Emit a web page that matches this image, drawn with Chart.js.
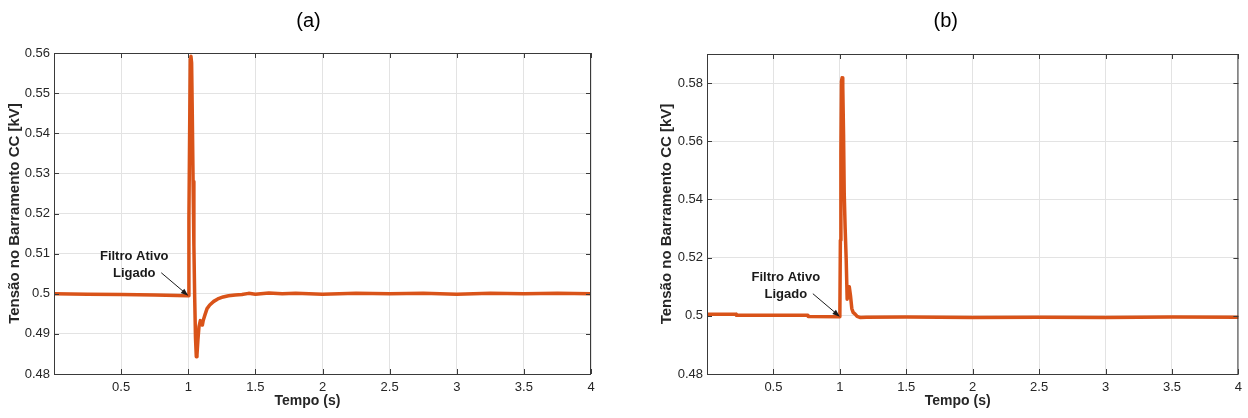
<!DOCTYPE html>
<html>
<head>
<meta charset="utf-8">
<script src="https://cdn.jsdelivr.net/npm/chart.js@4"></script>
<style>
  body { margin: 0; background: #fff; }
  #wrap { display: flex; width: 1248px; height: 418px; }
  canvas { display: block; }
</style>
</head>
<body>
<div id="wrap">
  <canvas id="chartA" width="624" height="418"></canvas>
  <canvas id="chartB" width="624" height="418"></canvas>
</div>
<script>
// tick labels
const xTicks = [0, 0.5, 1, 1.5, 2, 2.5, 3, 3.5, 4];
const yTicksA = [0.48, 0.49, 0.50, 0.51, 0.52, 0.53, 0.54, 0.55, 0.56];
const yTicksB = [0.48, 0.50, 0.52, 0.54, 0.56, 0.58];

// (a) tensao no barramento CC
const timeA = [0, 0.25, 0.5, 0.75, 1.0, 1.005, 1.01, 1.015, 1.02, 1.025, 1.03, 1.036, 1.042, 1.048, 1.054,
  1.06, 1.065, 1.072, 1.08, 1.09, 1.098, 1.105, 1.112, 1.125, 1.14, 1.16, 1.19, 1.22, 1.26, 1.3, 1.35, 1.4,
  1.45, 1.5, 1.6, 1.7, 1.8, 2.0, 2.25, 2.5, 2.75, 3.0, 3.25, 3.5, 3.75, 4.0];
const voltA = [0.5, 0.4999, 0.4998, 0.4997, 0.4995, 0.519, 0.539, 0.5585, 0.5592, 0.5575, 0.545, 0.528, 0.512, 0.499, 0.489,
  0.4843, 0.4848, 0.4885, 0.4918, 0.4933, 0.4928, 0.4922, 0.4934, 0.4948, 0.4963, 0.4972, 0.4981, 0.4987, 0.4992, 0.4995, 0.4997, 0.4998,
  0.5001, 0.4999, 0.5002, 0.5, 0.5001, 0.4999, 0.5001, 0.5, 0.5001, 0.4999, 0.5001, 0.5, 0.5001, 0.5];

// (b) tensao no barramento CC
const timeB = [0, 0.22, 0.221, 0.76, 0.761, 1.0, 1.004, 1.008, 1.012, 1.017, 1.022, 1.028, 1.033, 1.04, 1.048, 1.055,
  1.062, 1.071, 1.08, 1.09, 1.1, 1.115, 1.13, 1.155, 1.2, 1.5, 2.0, 2.5, 3.0, 3.5, 4.0];
const voltB = [0.5005, 0.5005, 0.5002, 0.5002, 0.4998, 0.4997, 0.526, 0.556, 0.5805, 0.5818, 0.579, 0.562, 0.542, 0.53, 0.519, 0.5057,
  0.5075, 0.51, 0.507, 0.5025, 0.5012, 0.5006, 0.4998, 0.4994, 0.4995, 0.4996, 0.4994, 0.4995, 0.4994, 0.4996, 0.4995];

const fontFam = 'Arial, "Liberation Sans", sans-serif';
const axisColor = '#3a3a3a';
const gridColor = '#e3e3e3';
const lineColor = '#D95319';

function fmt(v) {
  return String(Math.round(v * 1000) / 1000);
}

// MATLAB style box, inward tick marks, titles and the "Filtro Ativo Ligado" arrow
const boxPlugin = {
  id: 'box',
  afterDatasetsDraw(chart, args, opts) {
    const { ctx, chartArea: a, scales } = chart;
    ctx.save();
    ctx.strokeStyle = axisColor;
    ctx.lineWidth = 1;
    ctx.strokeRect(a.left + 0.5, a.top + 0.5, a.right - a.left - 1, a.bottom - a.top);
    ctx.beginPath();
    xTicks.forEach(v => {
      const px = Math.round(scales.x.getPixelForValue(v)) + 0.5;
      ctx.moveTo(px, a.bottom); ctx.lineTo(px, a.bottom - 5);
      ctx.moveTo(px, a.top); ctx.lineTo(px, a.top + 5);
    });
    opts.yTicks.forEach(v => {
      const py = Math.round(scales.y.getPixelForValue(v)) + 0.5;
      ctx.moveTo(a.left, py); ctx.lineTo(a.left + 5, py);
      ctx.moveTo(a.right, py); ctx.lineTo(a.right - 5, py);
    });
    ctx.stroke();

    // panel title and x axis title
    const mid = (a.left + a.right) / 2;
    ctx.textAlign = 'center';
    ctx.textBaseline = 'middle';
    ctx.fillStyle = '#000';
    ctx.font = '20px ' + fontFam;
    ctx.fillText(opts.title, mid + opts.titleShift, 21);
    ctx.fillStyle = '#262626';
    ctx.font = 'bold 14px ' + fontFam;
    ctx.fillText('Tempo (s)', mid - 15, 401);

    // annotation
    const tx = scales.x.getPixelForValue(opts.tip[0]);
    const ty = scales.y.getPixelForValue(opts.tip[1]);
    ctx.fillStyle = '#1a1a1a';
    ctx.font = 'bold 13px ' + fontFam;
    ctx.fillText('Filtro Ativo', tx - 54, ty - 39);
    ctx.fillText('Ligado', tx - 54, ty - 22);
    const sx = tx - 27, sy = ty - 23;
    ctx.strokeStyle = '#1a1a1a';
    ctx.beginPath();
    ctx.moveTo(sx, sy);
    ctx.lineTo(tx - 1, ty - 1);
    ctx.stroke();
    const ang = Math.atan2(ty - sy, tx - sx);
    ctx.beginPath();
    ctx.moveTo(tx, ty);
    ctx.lineTo(tx - 8 * Math.cos(ang - 0.35), ty - 8 * Math.sin(ang - 0.35));
    ctx.lineTo(tx - 8 * Math.cos(ang + 0.35), ty - 8 * Math.sin(ang + 0.35));
    ctx.closePath();
    ctx.fill();
    ctx.restore();
  }
};

function makeChart(id, label, titleShift, times, volts, yMax, yTicks, pad, yWidth, yTitlePad, tip) {
  const pts = times.map((t, i) => ({ x: t, y: volts[i] }));
  return new Chart(document.getElementById(id), {
    type: 'line',
    data: {
      datasets: [{
        data: pts,
        borderColor: lineColor,
        borderWidth: 3.5,
        borderJoinStyle: 'round',
        borderCapStyle: 'round',
        pointRadius: 0,
        tension: 0,
        fill: false
      }]
    },
    options: {
      responsive: false,
      animation: false,
      devicePixelRatio: 1,
      layout: { padding: pad },
      plugins: {
        legend: { display: false },
        tooltip: { enabled: false },
        title: { display: false },
        box: { yTicks: yTicks, tip: tip, title: label, titleShift: titleShift }
      },
      scales: {
        x: {
          type: 'linear',
          min: 0,
          max: 4,
          afterBuildTicks: s => { s.ticks = xTicks.map(v => ({ value: v })); },
          afterFit: s => { s.height = 44; },
          grid: { color: gridColor, drawTicks: false },
          border: { display: false },
          ticks: {
            color: '#262626',
            font: { family: fontFam, size: 13 },
            padding: 6,
            maxRotation: 0,
            callback: v => (v === 0 ? '' : fmt(v))
          },
          title: { display: false }
        },
        y: {
          min: 0.48,
          max: yMax,
          afterBuildTicks: s => { s.ticks = yTicks.map(v => ({ value: v })); },
          afterFit: s => { s.width = yWidth; },
          grid: { color: gridColor, drawTicks: false },
          border: { display: false },
          ticks: {
            color: '#262626',
            font: { family: fontFam, size: 13 },
            padding: 4,
            callback: v => fmt(v)
          },
          title: {
            display: true,
            text: 'Tensão no Barramento CC [kV]',
            color: '#262626',
            font: { family: fontFam, size: 15, weight: 'bold' },
            padding: { top: yTitlePad, bottom: 0 }
          }
        }
      }
    },
    plugins: [boxPlugin]
  });
}

makeChart('chartA', '(a)', -14, timeA, voltA, 0.56, yTicksA,
  { left: 0, right: 33, top: 53, bottom: 0 }, 54, 6, [1.0, 0.4995]);
makeChart('chartB', '(b)', -27, timeB, voltB, 0.59, yTicksB,
  { left: 25, right: 4, top: 54, bottom: 0 }, 58, 9, [1.0, 0.4997]);
</script>
</body>
</html>
